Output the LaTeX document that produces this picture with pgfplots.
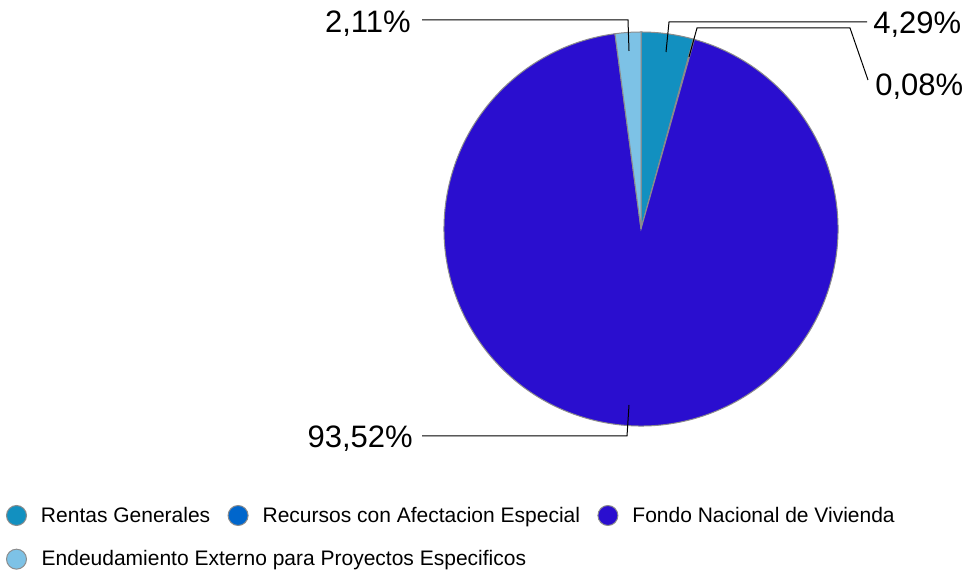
\documentclass[border=0pt]{standalone}
\usepackage{pgfplots}
\usepackage{pgfplotstable}
\pgfplotsset{compat=1.18}
\usepackage{fontspec}
\setmainfont{Liberation Sans}

\definecolor{cRentas}{HTML}{1290C0}
\definecolor{cRecursos}{HTML}{0066CC}
\definecolor{cFondo}{HTML}{2A0ECF}
\definecolor{cEndeud}{HTML}{7DC2E6}
\definecolor{borde}{HTML}{8C8C8C}

\tikzset{etiqueta/.style={inner sep=0pt, font=\fontsize{23.25}{28}\selectfont}}

% participacion de cada fuente (%)
\pgfplotstableread[col sep=comma]{
serie,valor
Rentas Generales,4.29
Recursos con Afectacion Especial,0.08
Fondo Nacional de Vivienda,93.52
Endeudamiento Externo para Proyectos Especificos,2.11
}\datos

\begin{document}
\begin{tikzpicture}
% angulos acumulados, en sentido horario desde arriba
\pgfplotstablegetelem{0}{valor}\of\datos \pgfmathsetmacro\vA{\pgfplotsretval}
\pgfplotstablegetelem{1}{valor}\of\datos \pgfmathsetmacro\vB{\pgfplotsretval}
\pgfplotstablegetelem{2}{valor}\of\datos \pgfmathsetmacro\vC{\pgfplotsretval}
\pgfplotstablegetelem{3}{valor}\of\datos \pgfmathsetmacro\vD{\pgfplotsretval}
\pgfmathsetmacro\aA{90}
\pgfmathsetmacro\aB{\aA-3.6*\vA}
\pgfmathsetmacro\aC{\aB-3.6*\vB}
\pgfmathsetmacro\aD{\aC-3.6*\vC}
\pgfmathsetmacro\aE{\aD-3.6*\vD}
\def\pieR{147.75pt}
\newcommand\pieslice[3]{%
  \filldraw[fill=#3, draw=borde, line width=0.75pt]
    (axis cs:641,344) -- ++(#1:\pieR) arc[start angle=#1, end angle=#2, radius=\pieR] -- cycle;}

\begin{axis}[
    scale only axis,
    width=727.5pt, height=429.75pt,
    xmin=0, xmax=970, ymin=0, ymax=573,
    hide axis,
    clip=false,
    legend columns=3,
    legend cell align=left,
    legend style={
        at={(axis cs:6,68)}, anchor=north west,
        draw=none, fill=none, inner sep=0pt, outer sep=0pt,
        font=\fontsize{15.75}{18}\selectfont,
        row sep=17pt,
        nodes={inner sep=0pt},
        /tikz/every odd column/.append style={column sep=10.5pt},
        /tikz/every even column/.append style={column sep=13pt},
    },
]
\path (axis cs:0,0) rectangle (axis cs:970,573);

\pieslice{\aA}{\aB}{cRentas}
\pieslice{\aB}{\aC}{cRecursos}
\pieslice{\aC}{\aD}{cFondo}
\pieslice{\aD}{\aE}{cEndeud}

% lineas guia y etiquetas
\draw[line width=0.75pt] (axis cs:666,521) -- (axis cs:669,551) -- (axis cs:867,551);
\draw[line width=0.75pt] (axis cs:689,516) -- (axis cs:697,545) -- (axis cs:850,545) -- (axis cs:868,493);
\draw[line width=0.75pt] (axis cs:629,522) -- (axis cs:628,553) -- (axis cs:422,553);
\draw[line width=0.75pt] (axis cs:629,168) -- (axis cs:627,137) -- (axis cs:422,137);

\node[etiqueta, anchor=base west] at (axis cs:873,539) {4,29\%};
\node[etiqueta, anchor=base west] at (axis cs:875,477) {0,08\%};
\node[etiqueta, anchor=base east] at (axis cs:411,540) {2,11\%};
\node[etiqueta, anchor=base east] at (axis cs:413,125) {93,52\%};

\addlegendimage{legend image code/.code={\filldraw[fill=cRentas, draw=borde, line width=0.75pt] (7.5pt,0pt) circle (7.5pt);}}
\addlegendimage{legend image code/.code={\filldraw[fill=cRecursos, draw=borde, line width=0.75pt] (7.5pt,0pt) circle (7.5pt);}}
\addlegendimage{legend image code/.code={\filldraw[fill=cFondo, draw=borde, line width=0.75pt] (7.5pt,0pt) circle (7.5pt);}}
\addlegendimage{legend image code/.code={\filldraw[fill=cEndeud, draw=borde, line width=0.75pt] (7.5pt,0pt) circle (7.5pt);}}
\legend{Rentas Generales, Recursos con Afectacion Especial, Fondo Nacional de Vivienda, \rlap{Endeudamiento Externo para Proyectos Especificos}}
\end{axis}
\end{tikzpicture}
\end{document}
